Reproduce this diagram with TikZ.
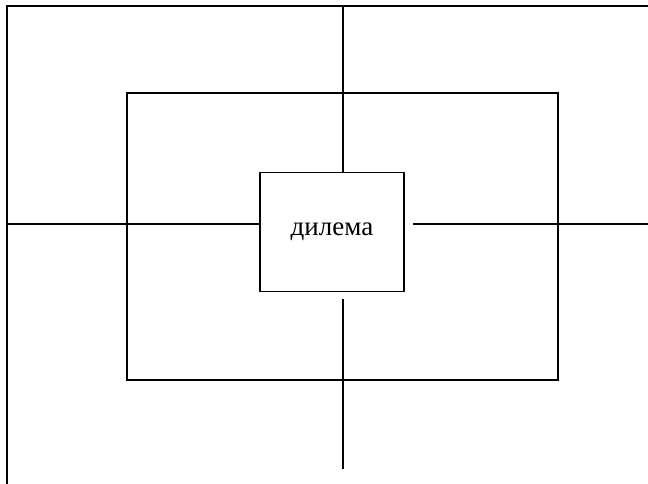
\documentclass[tikz,border=0pt]{standalone}
\usepackage{fontspec}
\setmainfont{Liberation Serif}
\begin{document}
\begin{tikzpicture}[x=1pt,y=-1pt,
  ln/.style={line width=1.8pt,line cap=rect},
  frame/.style={draw,line width=1.8pt,inner sep=0pt}]
\useasboundingbox (0,0) rectangle (648,483);
\node[frame,minimum width=144pt,minimum height=119pt,font=\fontsize{27}{30}\selectfont] (dil) at (332,232) {\raisebox{-3pt}{дилема}};
\node[frame,minimum width=431pt,minimum height=287pt] (mid) at (342.5,236.5) {};
\coordinate (tl) at (7,6);
\coordinate (tr) at (648,6);
\coordinate (bl) at (7,483);
\coordinate (top) at (343,6);
\coordinate (lft) at (7,224);
\coordinate (rgt) at (648,224);
\coordinate (rs) at (414,224);
\coordinate (bs) at (343,300);
\coordinate (be) at (343,468);
\draw[ln] (bl) -- (tl) -- (tr);
\draw[ln] (top) -- (top |- dil.north);
\draw[ln] (lft) -- (lft -| dil.west);
\draw[ln] (rs) -- (rgt);
\draw[ln] (bs) -- (be);
\end{tikzpicture}
\end{document}
